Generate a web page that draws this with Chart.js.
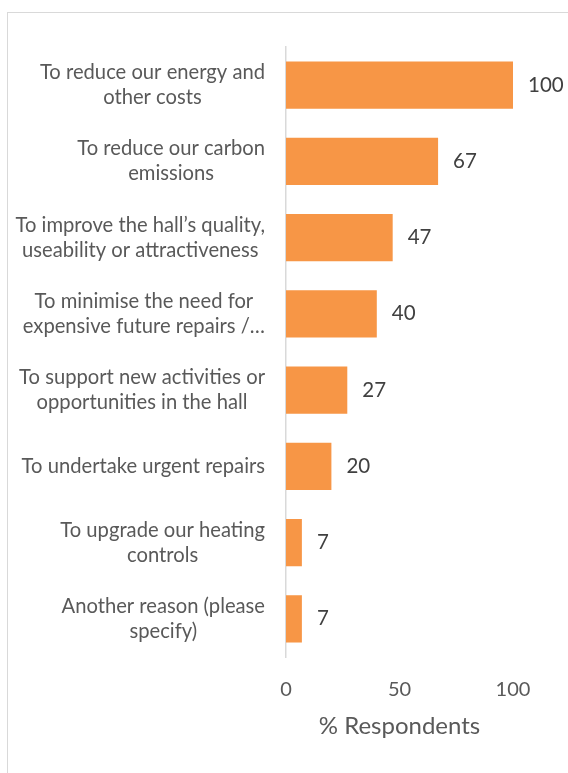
<!DOCTYPE html>
<html>
<head>
<meta charset="utf-8">
<script src="https://cdn.jsdelivr.net/npm/chart.js@4/dist/chart.umd.min.js"></script>
<style>
  html, body { margin: 0; padding: 0; background: #ffffff; overflow: hidden; }
  #wrap { position: relative; width: 568px; height: 773px; }
  #frame { position: absolute; left: 7px; top: 12px; width: 600px; height: 800px; border: 1px solid #d9d9d9; box-sizing: border-box; }
  #c { position: absolute; left: 0; top: 0; }
</style>
</head>
<body>
<div id="wrap">
  <div id="frame"></div>
  <canvas id="c" width="568" height="773"></canvas>
</div>
<script>
const categories = [
  ["To reduce our energy and", "other costs"],
  ["To reduce our carbon", "emissions"],
  ["To improve the hall\u2019s quality,", "useability or attractiveness"],
  ["To minimise the need for", "expensive future repairs /\u2026"],
  ["To support new activities or", "opportunities in the hall"],
  ["To undertake urgent repairs"],
  ["To upgrade our heating", "controls"],
  ["Another reason (please", "specify)"]
];
const values = [100, 67, 47, 40, 27, 20, 7, 7];
const xTicks = [0, 50, 100];
const axisTitle = "% Respondents";

const FONT = "Lato, 'Open Sans', sans-serif";
const CAT_SIZE = 20.2, CAT_LH = 25;
const NUM_SIZE = 20.5;

const catLabelPlugin = {
  id: 'catLabels',
  afterDraw(chart) {
    const ctx = chart.ctx;
    const ys = chart.scales.y;
    const right = chart.chartArea.left - 21;
    ctx.save();
    ctx.font = CAT_SIZE + "px " + FONT;
    ctx.fillStyle = "#595959";
    ctx.textAlign = "center";
    ctx.textBaseline = "middle";
    categories.forEach((lines, i) => {
      const yc = ys.getPixelForValue(i);
      const w = Math.max(...lines.map(l => ctx.measureText(l).width));
      const cx = right - w / 2;
      const start = yc - (lines.length - 1) * CAT_LH / 2;
      lines.forEach((l, k) => ctx.fillText(l, cx, start + k * CAT_LH));
    });
    ctx.restore();
  }
};

const valueLabelPlugin = {
  id: 'valueLabels',
  afterDatasetsDraw(chart) {
    const ctx = chart.ctx;
    const meta = chart.getDatasetMeta(0);
    ctx.save();
    ctx.font = NUM_SIZE + "px " + FONT;
    ctx.fillStyle = "#404040";
    ctx.textAlign = "left";
    ctx.textBaseline = "middle";
    meta.data.forEach((bar, i) => {
      ctx.fillText(String(values[i]), bar.x + 15, bar.y);
    });
    ctx.restore();
  }
};

new Chart(document.getElementById('c'), {
  type: 'bar',
  data: {
    labels: categories.map(c => c.join(' ')),
    datasets: [{
      data: values,
      backgroundColor: '#F79646',
      borderWidth: 0,
      categoryPercentage: 1,
      barPercentage: 0.62
    }]
  },
  options: {
    indexAxis: 'y',
    responsive: false,
    animation: false,
    devicePixelRatio: 1,
    layout: { padding: { left: 8, top: 47, right: 55, bottom: 0 } },
    plugins: { legend: { display: false }, tooltip: { enabled: false } },
    scales: {
      y: {
        grid: { display: false, drawTicks: false },
        border: { display: true, color: '#d9d9d9', width: 1.5 },
        ticks: { display: false },
        afterFit(scale) { scale.width = 278; }
      },
      x: {
        min: 0, max: 100,
        afterBuildTicks(scale) { scale.ticks = xTicks.map(v => ({ value: v })); },
        grid: { display: false, drawTicks: false },
        border: { display: false },
        ticks: { padding: 21, color: '#595959', font: { family: FONT, size: 20 } },
        title: {
          display: true, text: axisTitle, color: '#595959',
          font: { family: FONT, size: 24 },
          padding: { top: 0, bottom: 32 }
        },
        afterFit(scale) { scale.height = 116; }
      }
    }
  },
  plugins: [catLabelPlugin, valueLabelPlugin]
});
</script>
</body>
</html>
